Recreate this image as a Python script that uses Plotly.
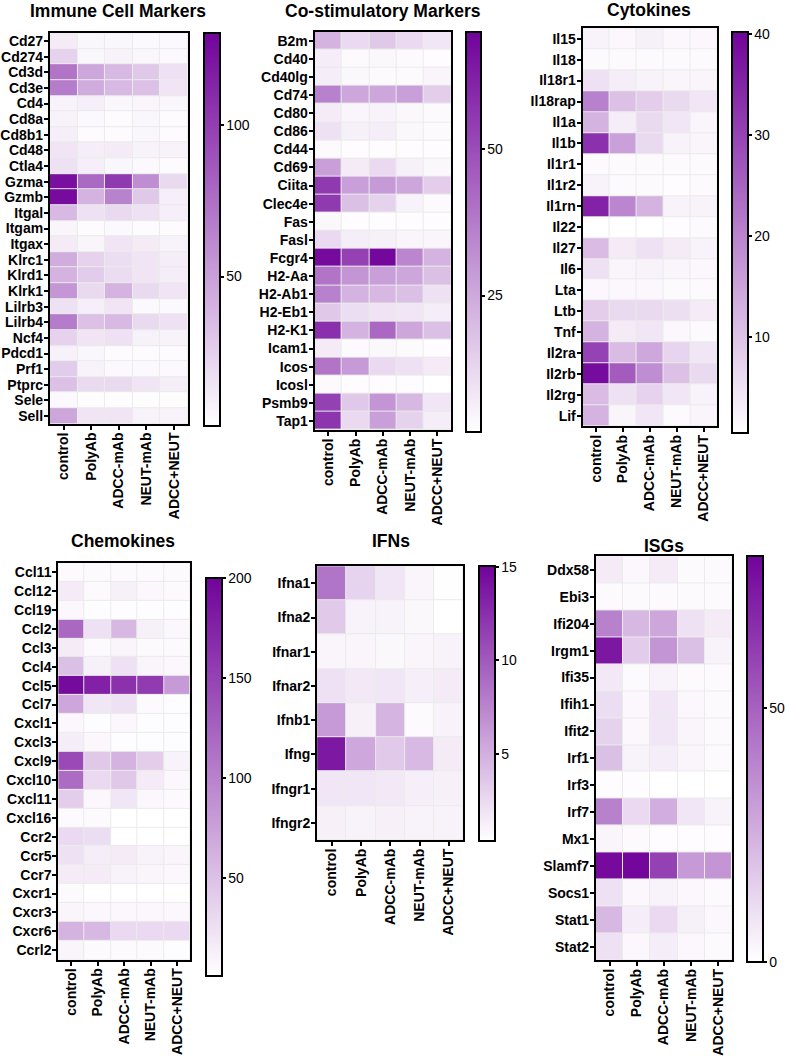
import plotly.graph_objects as go

# ---------------- data ----------------
groups = ["control", "PolyAb", "ADCC-mAb", "NEUT-mAb", "ADCC+NEUT"]

immune_genes = ["Cd27", "Cd274", "Cd3d", "Cd3e", "Cd4", "Cd8a", "Cd8b1", "Cd48", "Ctla4",
                "Gzma", "Gzmb", "Itgal", "Itgam", "Itgax", "Klrc1", "Klrd1", "Klrk1",
                "Lilrb3", "Lilrb4", "Ncf4", "Pdcd1", "Prf1", "Ptprc", "Sele", "Sell"]
immune_values = [
    [11, 5, 5, 4, 4],
    [24, 5, 7, 5, 4],
    [72, 46, 37, 29, 16],
    [68, 44, 37, 33, 14],
    [7, 9, 5, 6, 5],
    [7, 4, 3, 5, 3],
    [9, 3, 3, 5, 3],
    [14, 10, 11, 7, 7],
    [16, 9, 5, 4, 3],
    [124, 78, 102, 59, 20],
    [126, 40, 65, 29, 9],
    [37, 16, 20, 16, 9],
    [6, 3, 4, 3, 3],
    [11, 6, 14, 11, 7],
    [43, 24, 18, 14, 10],
    [40, 27, 19, 14, 10],
    [55, 20, 40, 20, 14],
    [16, 9, 14, 4, 4],
    [68, 33, 37, 20, 16],
    [24, 14, 16, 8, 7],
    [8, 5, 3, 3, 3],
    [27, 7, 4, 4, 4],
    [33, 20, 20, 14, 10],
    [4, 2, 2, 2, 2],
    [46, 14, 14, 7, 7],
]

costim_genes = ["B2m", "Cd40", "Cd40lg", "Cd74", "Cd80", "Cd86", "Cd44", "Cd69", "Ciita",
                "Clec4e", "Fas", "Fasl", "Fcgr4", "H2-Aa", "H2-Ab1", "H2-Eb1", "H2-K1",
                "Icam1", "Icos", "Icosl", "Psmb9", "Tap1"]
costim_values = [
    [22.3, 12.0, 16.8, 12.0, 8.6],
    [6.6, 3.2, 3.8, 3.2, 2.5],
    [6.6, 3.8, 3.2, 3.2, 4.5],
    [35.9, 25.7, 25.7, 27.7, 15.4],
    [7.3, 4.5, 5.2, 3.8, 3.2],
    [10.0, 5.9, 6.6, 3.8, 3.2],
    [3.2, 2.5, 2.5, 2.5, 2.5],
    [27.7, 7.3, 12.0, 5.9, 3.8],
    [55.0, 27.7, 29.1, 25.7, 15.4],
    [55.0, 18.9, 14.1, 5.2, 3.2],
    [3.8, 2.5, 2.5, 2.5, 2.5],
    [12.0, 6.6, 5.9, 4.5, 4.5],
    [68.0, 53.0, 68.6, 34.5, 22.3],
    [39.3, 30.4, 27.7, 25.7, 18.9],
    [35.9, 22.3, 20.9, 18.9, 10.0],
    [16.8, 10.7, 9.3, 8.6, 6.6],
    [57.7, 22.3, 42.7, 25.7, 18.9],
    [7.3, 3.2, 3.8, 3.2, 2.5],
    [39.3, 29.1, 12.0, 10.0, 7.3],
    [3.2, 2.5, 2.5, 2.5, 1.8],
    [53.0, 16.8, 30.4, 20.9, 8.6],
    [56.4, 12.0, 27.7, 14.1, 6.6],
]

cytokine_genes = ["Il15", "Il18", "Il18r1", "Il18rap", "Il1a", "Il1b", "Il1r1", "Il1r2",
                  "Il1rn", "Il22", "Il27", "Il6", "Lta", "Ltb", "Tnf", "Il2ra", "Il2rb",
                  "Il2rg", "Lif"]
cytokine_values = [
    [2.5, 1.7, 2.9, 1.7, 1.7],
    [1.3, 1.3, 1.3, 1.3, 1.3],
    [5.2, 3.3, 2.5, 2.1, 2.1],
    [20.3, 10.4, 8.4, 6.4, 4.5],
    [12.4, 3.3, 6.4, 4.5, 2.1],
    [32.9, 15.5, 6.4, 2.5, 2.1],
    [1.3, 1.3, 1.3, 1.3, 1.3],
    [2.5, 1.3, 1.3, 0.9, 1.3],
    [35.3, 19.5, 12.4, 2.5, 2.5],
    [0.5, 0.5, 0.5, 0.9, 1.3],
    [11.2, 3.7, 5.2, 3.7, 2.5],
    [5.2, 2.1, 2.5, 2.1, 1.7],
    [1.7, 1.7, 1.7, 1.3, 1.3],
    [8.4, 6.4, 6.4, 5.6, 3.7],
    [12.4, 3.7, 4.5, 1.7, 1.3],
    [30.1, 11.2, 14.3, 7.2, 4.5],
    [38.8, 26.2, 18.3, 10.4, 6.4],
    [11.2, 5.2, 7.6, 4.5, 2.5],
    [12.4, 2.1, 4.5, 1.3, 2.1],
]

chemokine_genes = ["Ccl11", "Ccl12", "Ccl19", "Ccl2", "Ccl3", "Ccl4", "Ccl5", "Ccl7",
                   "Cxcl1", "Cxcl3", "Cxcl9", "Cxcl10", "Cxcl11", "Cxcl16", "Ccr2", "Ccr5",
                   "Ccr7", "Cxcr1", "Cxcr3", "Cxcr6", "Ccrl2"]
chemokine_values = [
    [5.5, 5.5, 5.5, 5.5, 5.5],
    [17.4, 5.5, 13.4, 7.5, 5.5],
    [7.5, 3.5, 3.5, 3.5, 3.5],
    [120.6, 25.3, 57.1, 13.4, 7.5],
    [17.4, 5.5, 9.4, 5.5, 5.5],
    [51.1, 13.4, 25.3, 9.4, 7.5],
    [194, 176, 164, 156, 81],
    [71, 21.4, 25.3, 5.5, 3.5],
    [7.5, 3.5, 7.5, 3.5, 3.5],
    [15.4, 7.5, 3.5, 3.5, 3.5],
    [144, 45, 61, 41, 11.4],
    [117, 31.3, 45, 17.4, 7.5],
    [41, 7.5, 21.4, 7.5, 5.5],
    [5.5, 5.5, 1.5, 1.5, 1.5],
    [31.3, 27.3, 1.5, 1.5, 1.5],
    [25.3, 15.4, 17.4, 11.4, 9.4],
    [17.4, 17.4, 11.4, 9.4, 7.5],
    [5.5, 1.5, 1.5, 1.5, 1.5],
    [9.4, 7.5, 7.5, 7.5, 7.5],
    [61, 57, 31.3, 31.3, 31.3],
    [9.4, 5.5, 5.5, 5.5, 3.5],
]

ifn_genes = ["Ifna1", "Ifna2", "Ifnar1", "Ifnar2", "Ifnb1", "Ifng", "Ifngr1", "Ifngr2"]
ifn_values = [
    [8.4, 2.9, 1.8, 0.9, 0.4],
    [3.5, 1.0, 1.0, 0.7, 0.3],
    [0.9, 0.9, 0.7, 0.9, 1.0],
    [2.1, 1.6, 1.8, 1.3, 1.5],
    [6.2, 1.2, 4.7, 0.6, 1.0],
    [13.8, 5.4, 3.5, 4.4, 1.5],
    [1.8, 1.8, 1.6, 1.3, 1.2],
    [1.2, 1.0, 1.2, 1.0, 1.0],
]

isg_genes = ["Ddx58", "Ebi3", "Ifi204", "Irgm1", "Ifi35", "Ifih1", "Ifit2", "Irf1", "Irf3",
             "Irf7", "Mx1", "Slamf7", "Socs1", "Stat1", "Stat2"]
isg_values = [
    [6.4, 2.4, 6.4, 1.6, 1.6],
    [1.6, 1.6, 1.6, 1.6, 1.6],
    [40, 22.4, 28, 9.6, 6.4],
    [73.6, 16, 33.6, 20, 4],
    [7.2, 1.6, 4, 1.6, 1.6],
    [10.4, 2.4, 8, 2.4, 1.6],
    [14.4, 2.4, 8, 3.2, 1.6],
    [20, 4, 5.6, 3.2, 1.6],
    [0.8, 0.8, 0, 0, 0],
    [40, 12, 25.6, 8, 4],
    [3.2, 1.6, 0.8, 0.8, 0.8],
    [77.6, 78.4, 60, 32, 33.6],
    [9.6, 2.4, 4, 2.4, 1.6],
    [22.4, 5.6, 12, 4.8, 2.4],
    [9.6, 2.4, 5.6, 2.4, 1.6],
]

titles = ["Immune Cell Markers", "Co-stimulatory Markers", "Cytokines",
          "Chemokines", "IFNs", "ISGs"]
color_ranges = [(0.8, 130.3), (1.8, 70.0), (0.5, 40.2), (1.4, 200.0), (0.32, 15.05), (0.0, 79.8)]
colorbar_ticks = [[50, 100], [25, 50], [10, 20, 30, 40], [50, 100, 150, 200], [5, 10, 15], [0, 50]]

# ---------------- layout (pixels) ----------------
W, H = 787, 1056
FONT = "Liberation Sans, Arial, Helvetica, sans-serif"
colorscale = [[0, "#ffffff"], [1, "#71039a"]]

# heatmap boxes: left, right, top, bottom
boxes = [(50, 188, 33.3, 425.5), (315, 451.7, 31.7, 431.7), (583.3, 718, 28.3, 428),
         (58.3, 190.7, 565, 963.3), (317.5, 464, 568.3, 843.3), (596.7, 732.7, 558.5, 964)]
# colorbar: left, thickness, top, length
cbars = [(204, 16, 33, 393), (466.7, 15, 31.7, 400), (733.3, 16, 31.7, 400.6),
         (206, 16, 580, 398.3), (479.3, 16, 568.3, 275), (748.3, 16, 558.3, 406)]
title_pos = [(118, 11), (383, 11), (650, 10), (123, 543), (391, 543), (665, 548)]

gene_lists = [immune_genes, costim_genes, cytokine_genes, chemokine_genes, ifn_genes, isg_genes]
value_lists = [immune_values, costim_values, cytokine_values, chemokine_values, ifn_values, isg_values]

fig = go.Figure()
annotations = []
layout_axes = {}

for i in range(6):
    n = "" if i == 0 else str(i + 1)
    l, r, t, b = boxes[i]
    cx, th, ct, clen = cbars[i]
    zmin, zmax = color_ranges[i]
    fig.add_trace(go.Heatmap(
        x=groups, y=gene_lists[i], z=value_lists[i],
        xaxis="x" + n, yaxis="y" + n,
        colorscale=colorscale, zmin=zmin, zmax=zmax,
        xgap=1, ygap=1, hoverinfo="skip",
        colorbar=dict(
            x=cx / W, xanchor="left", y=1 - ct / H, yanchor="top",
            lenmode="pixels", len=clen, thicknessmode="pixels", thickness=th,
            xpad=0, ypad=0, outlinewidth=2, outlinecolor="black",
            tickvals=colorbar_ticks[i], ticks="outside", ticklen=3, tickwidth=1.5,
            tickcolor="black", tickfont=dict(family=FONT, size=14, color="black"),
        ),
    ))
    layout_axes["xaxis" + n] = dict(
        domain=[l / W, r / W], anchor="y" + n, tickangle=-90,
        tickmode="array", tickvals=groups, ticktext=groups,
        showline=True, mirror=True, linewidth=2, linecolor="black",
        ticks="outside", ticklen=4, tickwidth=1.5, tickcolor="black",
        ticklabelstandoff=-3,
        tickfont=dict(family=FONT, size=14, color="black", weight="bold"),
        showgrid=False, zeroline=False, fixedrange=True,
    )
    layout_axes["yaxis" + n] = dict(
        domain=[1 - b / H, 1 - t / H], anchor="x" + n, autorange="reversed",
        tickmode="array", tickvals=gene_lists[i], ticktext=gene_lists[i],
        showline=True, mirror=True, linewidth=2, linecolor="black",
        ticks="outside", ticklen=4, tickwidth=1.5, tickcolor="black",
        ticklabelstandoff=-2,
        tickfont=dict(family=FONT, size=14, color="black", weight="bold"),
        showgrid=False, zeroline=False, fixedrange=True,
    )
    tx, ty = title_pos[i]
    annotations.append(dict(
        text=titles[i], x=tx / W, y=1 - ty / H, xref="paper", yref="paper",
        xanchor="center", yanchor="middle", showarrow=False,
        font=dict(family=FONT, size=17.5, color="black", weight="bold"),
    ))

fig.update_layout(
    width=W, height=H, margin=dict(l=0, r=0, t=0, b=0),
    paper_bgcolor="white", plot_bgcolor="#ebebeb",
    font=dict(family=FONT, color="black"),
    annotations=annotations, **layout_axes,
)

# remove the browser's default 8px page margin so the figure sits at (0, 0)
fig.write_html("out.html", config={"displayModeBar": False},
               post_script="document.body.style.margin='0px';")
